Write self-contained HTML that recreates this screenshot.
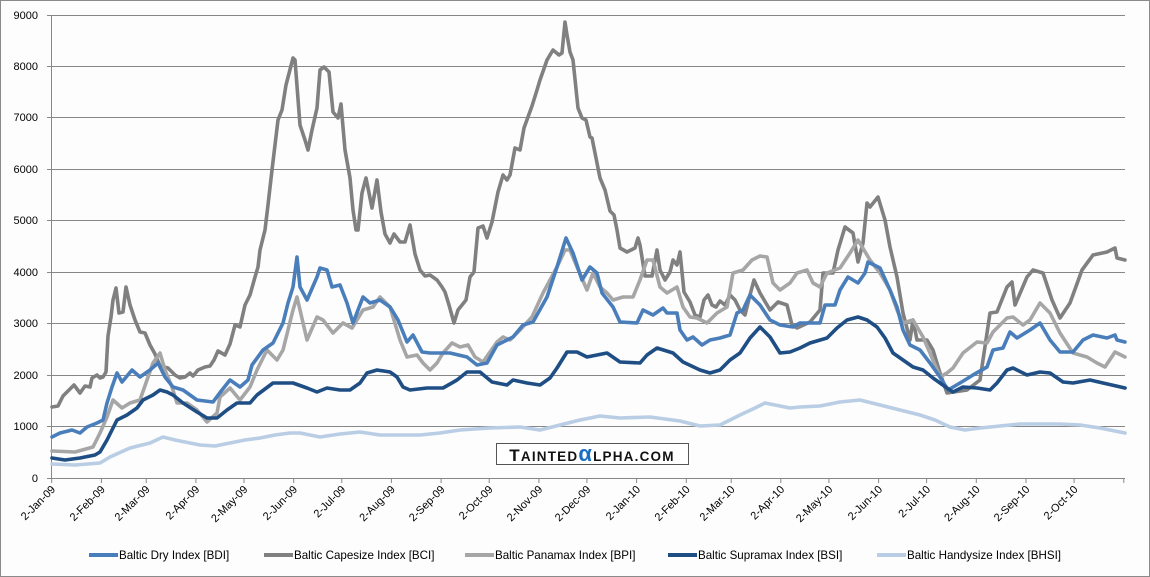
<!DOCTYPE html>
<html><head><meta charset="utf-8"><style>
html,body{margin:0;padding:0;background:#fff}
svg{display:block}
text{font-family:"Liberation Sans",sans-serif;font-size:11px;fill:#000}
.lg{font-size:11.6px}
</style></head><body>
<svg width="1150" height="577" viewBox="0 0 1150 577" xmlns="http://www.w3.org/2000/svg">
<rect x="0.5" y="0.5" width="1149" height="576" fill="#fcfdfc" stroke="#8a8a8a"/>
<g stroke="#878787" stroke-width="1">
<line x1="47" y1="15.5" x2="1125" y2="15.5"/>
<line x1="47" y1="66.5" x2="1125" y2="66.5"/>
<line x1="47" y1="117.5" x2="1125" y2="117.5"/>
<line x1="47" y1="169.5" x2="1125" y2="169.5"/>
<line x1="47" y1="220.5" x2="1125" y2="220.5"/>
<line x1="47" y1="272.5" x2="1125" y2="272.5"/>
<line x1="47" y1="323.5" x2="1125" y2="323.5"/>
<line x1="47" y1="375.5" x2="1125" y2="375.5"/>
<line x1="47" y1="426.5" x2="1125" y2="426.5"/>
<line x1="47" y1="478.5" x2="1125" y2="478.5"/>
<line x1="51.5" y1="15" x2="51.5" y2="478"/>
</g>
<g stroke="#878787">
<line x1="51.7" y1="478" x2="51.7" y2="483"/><line x1="101.4" y1="478" x2="101.4" y2="483"/><line x1="146.2" y1="478" x2="146.2" y2="483"/><line x1="195.9" y1="478" x2="195.9" y2="483"/><line x1="244" y1="478" x2="244" y2="483"/><line x1="293.7" y1="478" x2="293.7" y2="483"/><line x1="341.8" y1="478" x2="341.8" y2="483"/><line x1="391.4" y1="478" x2="391.4" y2="483"/><line x1="441.1" y1="478" x2="441.1" y2="483"/><line x1="489.2" y1="478" x2="489.2" y2="483"/><line x1="538.9" y1="478" x2="538.9" y2="483"/><line x1="586.9" y1="478" x2="586.9" y2="483"/><line x1="636.6" y1="478" x2="636.6" y2="483"/><line x1="686.3" y1="478" x2="686.3" y2="483"/><line x1="731.2" y1="478" x2="731.2" y2="483"/><line x1="780.8" y1="478" x2="780.8" y2="483"/><line x1="828.9" y1="478" x2="828.9" y2="483"/><line x1="878.6" y1="478" x2="878.6" y2="483"/><line x1="926.6" y1="478" x2="926.6" y2="483"/><line x1="976.3" y1="478" x2="976.3" y2="483"/><line x1="1026" y1="478" x2="1026" y2="483"/><line x1="1074.1" y1="478" x2="1074.1" y2="483"/><line x1="1123.8" y1="478" x2="1123.8" y2="483"/>
</g>
<g text-anchor="end" style="font-size:11.5px">
<text x="38" y="19">9000</text><text x="38" y="70">8000</text><text x="38" y="121">7000</text><text x="38" y="173">6000</text><text x="38" y="224">5000</text><text x="38" y="276">4000</text><text x="38" y="327">3000</text><text x="38" y="379">2000</text><text x="38" y="430">1000</text><text x="38" y="482">0</text>
</g>
<g text-anchor="end" style="font-size:11.5px">
<text transform="translate(56,490) rotate(-45)">2-Jan-09</text>
<text transform="translate(105.7,490) rotate(-45)">2-Feb-09</text>
<text transform="translate(150.5,490) rotate(-45)">2-Mar-09</text>
<text transform="translate(200.2,490) rotate(-45)">2-Apr-09</text>
<text transform="translate(248.3,490) rotate(-45)">2-May-09</text>
<text transform="translate(298,490) rotate(-45)">2-Jun-09</text>
<text transform="translate(346.1,490) rotate(-45)">2-Jul-09</text>
<text transform="translate(395.7,490) rotate(-45)">2-Aug-09</text>
<text transform="translate(445.4,490) rotate(-45)">2-Sep-09</text>
<text transform="translate(493.5,490) rotate(-45)">2-Oct-09</text>
<text transform="translate(543.2,490) rotate(-45)">2-Nov-09</text>
<text transform="translate(591.2,490) rotate(-45)">2-Dec-09</text>
<text transform="translate(640.9,490) rotate(-45)">2-Jan-10</text>
<text transform="translate(690.6,490) rotate(-45)">2-Feb-10</text>
<text transform="translate(735.5,490) rotate(-45)">2-Mar-10</text>
<text transform="translate(785.1,490) rotate(-45)">2-Apr-10</text>
<text transform="translate(833.2,490) rotate(-45)">2-May-10</text>
<text transform="translate(882.9,490) rotate(-45)">2-Jun-10</text>
<text transform="translate(930.9,490) rotate(-45)">2-Jul-10</text>
<text transform="translate(980.6,490) rotate(-45)">2-Aug-10</text>
<text transform="translate(1030.3,490) rotate(-45)">2-Sep-10</text>
<text transform="translate(1078.4,490) rotate(-45)">2-Oct-10</text>
</g>
<g fill="none" stroke-width="3.6" stroke-linejoin="round" stroke-linecap="round">
<polyline stroke="#b9cde5" points="52,464 75,465 100,463 110,457 130,448 150,443 163,437 175,440 200,445 215,446 230,443 245,440 260,438 275,435 290,433 300,433 320,437 340,434 360,432 380,435 400,435 420,435 440,433 460,430 490,428 520,427 540,430 560,425 580,420 600,416 620,418 650,417 680,421 700,426 720,425 740,415 755,408 765,403 775,405 790,408 800,407 820,406 840,402 860,400 880,405 900,410 920,415 935,420 950,427 965,430 980,428 1000,426 1020,424 1040,424 1060,424 1080,425 1100,428 1115,431 1125,433"/>
<polyline stroke="#808080" points="52,407 58,406 63,396 70,389 74,385 80,393 85,386 90,387 92,378 97,375 100,378 103,377 106,372 108,336 111,317 113,300 116,288 119,313 123,312 126,287 130,305 135,320 140,332 145,333 150,345 155,354 160,366 168,368 175,375 180,378 185,377 190,373 193,376 198,370 205,367 210,366 214,360 218,351 225,355 230,344 235,325 240,327 245,305 250,295 255,277 258,267 260,250 265,230 268,205 272,170 278,120 282,110 286,85 293,58 295,60 300,125 305,140 308,150 312,130 317,108 320,70 324,67 329,72 333,112 338,118 341,104 345,150 350,178 353,210 356,230 358,230 362,193 366,178 372,208 377,180 381,212 385,234 390,243 394,234 400,242 405,242 410,225 415,254 420,270 425,276 430,275 437,280 442,287 445,292 449,305 454,323 458,310 466,300 470,277 474,272 478,228 483,226 487,238 492,222 498,192 503,175 507,180 510,175 515,148 520,150 524,128 532,106 537,90 540,80 547,60 553,50 559,55 562,53 565,22 567,35 570,52 573,60 578,108 582,118 586,120 590,137 592,138 594,148 600,178 605,190 610,211 614,215 617,230 620,248 627,252 635,248 638,238 640,245 645,276 652,276 657,250 660,270 665,280 670,272 673,260 677,265 680,252 684,292 690,302 695,315 700,317 704,300 708,295 712,305 716,307 720,301 725,305 730,295 735,300 740,310 745,315 750,295 754,280 760,293 770,310 778,302 787,305 792,325 797,328 810,322 820,310 823,273 833,273 838,250 845,227 853,233 858,262 863,243 867,203 870,207 878,197 885,220 890,247 897,277 903,313 910,340 913,320 917,340 927,340 933,350 940,373 947,393 967,390 980,380 990,313 997,312 1007,287 1012,282 1015,305 1027,277 1033,270 1043,273 1052,300 1060,318 1070,303 1082,270 1093,255 1107,252 1115,248 1117,258 1125,260"/>
<polyline stroke="#a6a6a6" points="52,451 75,452 93,447 100,433 107,417 113,400 122,408 130,403 140,400 147,380 153,363 160,353 165,370 172,387 177,403 187,403 197,410 207,422 217,413 220,397 230,388 240,400 250,387 257,370 267,350 277,360 283,350 288,330 293,310 297,297 307,340 317,317 323,320 333,333 343,323 352,328 363,310 373,307 380,297 390,307 400,340 407,357 417,355 423,363 430,370 437,363 443,353 452,343 460,347 468,345 475,357 483,362 497,342 503,337 510,340 520,330 532,317 543,293 557,267 565,250 570,250 577,267 587,290 593,273 600,287 607,293 613,300 623,297 633,297 640,280 647,260 653,260 660,287 667,293 677,287 683,307 690,317 697,318 707,323 717,313 727,307 733,273 743,270 752,260 760,256 767,257 773,283 780,290 790,283 797,273 807,270 813,283 820,287 827,273 840,268 850,253 858,240 870,260 880,273 890,290 897,310 903,323 913,320 923,337 930,353 940,377 947,373 953,368 963,353 977,342 987,343 993,332 1007,318 1013,317 1023,325 1030,320 1040,303 1050,313 1060,333 1073,353 1087,357 1097,363 1105,367 1115,352 1125,357"/>
<polyline stroke="#4a7ebb" points="52,437 60,433 72,430 80,433 87,427 97,423 103,420 107,403 112,387 117,373 122,382 132,370 140,377 150,370 158,363 165,377 173,387 183,390 197,400 213,402 222,390 230,380 240,387 248,380 252,365 263,350 273,343 283,323 288,303 293,287 297,257 300,287 307,300 317,277 320,268 327,270 332,287 340,285 347,303 353,323 363,297 370,303 380,300 390,307 398,320 407,342 413,335 422,352 430,353 450,353 467,357 477,365 487,363 497,345 507,340 513,337 523,325 533,322 547,297 557,267 566,238 573,253 582,280 590,267 597,273 602,293 613,307 620,322 637,323 643,310 653,315 663,308 667,313 677,313 680,330 687,340 693,337 702,345 710,340 720,338 730,335 737,313 743,310 750,295 760,305 770,320 780,325 793,327 800,323 820,323 825,305 835,305 840,290 848,277 858,283 865,273 868,262 880,268 890,290 897,307 903,330 910,345 920,350 930,363 940,377 948,390 960,383 973,375 987,367 993,350 1003,348 1010,332 1017,338 1030,330 1040,323 1050,340 1060,352 1073,352 1083,340 1093,335 1107,338 1115,335 1117,340 1125,342"/>
<polyline stroke="#1f4e85" points="52,458 65,460 80,458 95,455 100,452 107,440 117,420 127,415 137,408 143,400 153,395 160,390 167,392 173,395 183,403 197,412 207,418 217,418 227,410 237,403 250,403 257,395 273,383 293,383 307,388 317,392 327,388 340,390 350,390 360,383 367,373 377,370 390,372 397,377 403,387 410,390 427,388 443,388 457,380 467,372 480,372 492,382 507,385 513,380 527,383 540,385 550,378 557,368 567,352 577,352 587,357 607,353 620,362 640,363 647,355 657,348 673,353 683,362 700,370 710,373 720,370 730,360 740,353 750,338 760,327 770,337 780,353 790,352 800,348 810,343 827,338 837,328 847,320 858,317 867,320 877,327 885,338 893,353 903,360 913,367 923,370 933,378 947,388 953,392 963,387 977,388 990,390 997,383 1007,370 1013,368 1027,375 1040,372 1050,373 1063,382 1073,383 1090,380 1103,383 1125,388"/>
</g>
<rect x="496.5" y="443.5" width="192" height="21" fill="#fff" stroke="#555"/>
<text x="592" y="461" text-anchor="middle" style="font-size:17px;font-weight:bold;letter-spacing:1.2px;fill:#111">T<tspan style="font-size:13.5px">AINTED</tspan><tspan style="fill:#1a6fc4;font-size:22px">α</tspan><tspan style="font-size:13.5px">LPHA.COM</tspan></text>
<g stroke-width="4">
<line x1="89" y1="555" x2="118" y2="555" stroke="#4a7ebb"/>
<line x1="264" y1="555" x2="293" y2="555" stroke="#808080"/>
<line x1="465" y1="555" x2="494" y2="555" stroke="#a6a6a6"/>
<line x1="668" y1="555" x2="697" y2="555" stroke="#1f4e85"/>
<line x1="877" y1="555" x2="906" y2="555" stroke="#b9cde5"/>
</g>
<text class="lg" x="119" y="559">Baltic Dry Index [BDI]</text>
<text class="lg" x="294" y="559">Baltic Capesize Index [BCI]</text>
<text class="lg" x="495" y="559">Baltic Panamax Index [BPI]</text>
<text class="lg" x="698" y="559">Baltic Supramax Index [BSI]</text>
<text class="lg" x="907" y="559">Baltic Handysize Index [BHSI]</text>
</svg>
</body></html>
